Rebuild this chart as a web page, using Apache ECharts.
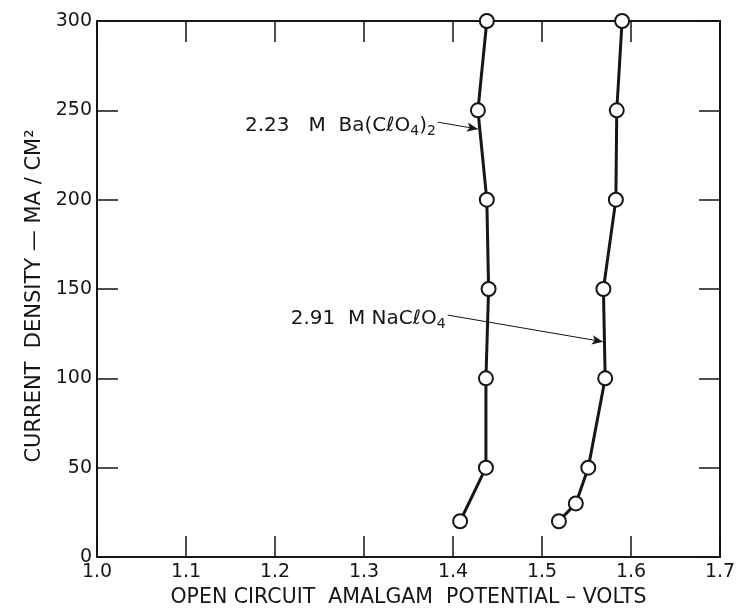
<!DOCTYPE html>
<html>
<head>
<meta charset="utf-8">
<script src="https://cdn.jsdelivr.net/npm/echarts@6/dist/echarts.min.js"></script>
<style>
  html, body { margin: 0; padding: 0; background: #ffffff; }
  #chart { width: 740px; height: 608px; }
</style>
</head>
<body>
<div id="chart"></div>
<script>
// Open-circuit amalgam potential vs. current density
const densityBa = [300, 250, 200, 150, 100, 50, 20];
const potentialBa = [1.438, 1.428, 1.438, 1.440, 1.437, 1.437, 1.408];

const densityNa = [300, 250, 200, 150, 100, 50, 30, 20];
const potentialNa = [1.590, 1.584, 1.583, 1.569, 1.571, 1.552, 1.538, 1.519];

const xTickLabels = ['1.0', '1.1', '1.2', '1.3', '1.4', '1.5', '1.6', '1.7'];
const yTickLabels = ['0', '50', '100', '150', '200', '250', '300'];

const labelBa = '2.23   M  Ba(CℓO';
const labelNa = '2.91  M NaCℓO';

const FONT = 'DejaVu Sans';
const INK = '#161616';

const pairs = (xs, ys) => xs.map((x, i) => [x, ys[i]]);

const chart = echarts.init(document.getElementById('chart'), null, { renderer: 'canvas' });

// frame lines stay on the plot edges, never on the zero of the other axis
const axisLine = { show: true, onZero: false, lineStyle: { color: INK, width: 2 } };
const tickStyle = { show: true, inside: true, length: 21, lineStyle: { color: INK, width: 1.5 } };

const richText = {
  m: { fontSize: 20, lineHeight: 25, color: INK, fontFamily: FONT },
  s: { fontSize: 14, lineHeight: 14, padding: [12, 0, 0, 0], color: INK, fontFamily: FONT }
};

function arrowMark(from, to, text) {
  return {
    silent: true,
    symbol: ['none', 'arrow'],
    symbolSize: [7, 11],
    lineStyle: { color: INK, width: 1, type: 'solid' },
    label: {
      show: true,
      position: 'start',
      distance: 2,
      offset: [0, 4],
      formatter: text,
      rich: richText
    },
    emphasis: { disabled: true },
    data: [[{ coord: from }, { coord: to }]]
  };
}

const option = {
  backgroundColor: '#ffffff',
  animation: false,
  // fixed plot rectangle; axis names are allowed to sit close to the page edge
  grid: { left: 97, top: 21, width: 623, height: 536, containLabel: false, outerBoundsMode: 'none' },
  xAxis: [
    {
      type: 'value', position: 'bottom', min: 1.0, max: 1.7, interval: 0.1,
      axisLine, axisTick: tickStyle, splitLine: { show: false },
      axisLabel: {
        margin: 6, color: INK, fontSize: 19, fontFamily: FONT,
        formatter: (v) => xTickLabels[Math.round((v - 1.0) * 10)]
      },
      name: 'OPEN CIRCUIT  AMALGAM  POTENTIAL – VOLTS',
      nameLocation: 'middle', nameGap: 30,
      nameTextStyle: { color: INK, fontSize: 20.5, fontFamily: FONT }
    },
    {
      type: 'value', position: 'top', min: 1.0, max: 1.7, interval: 0.1,
      axisLine, axisTick: tickStyle, axisLabel: { show: false }, splitLine: { show: false }
    }
  ],
  yAxis: [
    {
      type: 'value', position: 'left', min: 0, max: 300, interval: 50,
      axisLine, axisTick: tickStyle, splitLine: { show: false },
      axisLabel: {
        margin: 5, color: INK, fontSize: 19, fontFamily: FONT,
        formatter: (v) => yTickLabels[Math.round(v / 50)]
      },
      name: 'CURRENT  DENSITY — MA / CM²',
      nameLocation: 'middle', nameGap: 51,
      nameTextStyle: { color: INK, fontSize: 21, fontFamily: FONT, padding: [0, 14, 0, 0] }
    },
    {
      type: 'value', position: 'right', min: 0, max: 300, interval: 50,
      axisLine, axisTick: tickStyle, axisLabel: { show: false }, splitLine: { show: false }
    }
  ],
  series: [
    {
      name: labelBa,
      type: 'line',
      data: pairs(potentialBa, densityBa),
      clip: false,
      symbol: 'circle', symbolSize: 14,
      itemStyle: { color: '#ffffff', borderColor: INK, borderWidth: 2 },
      lineStyle: { color: INK, width: 3 },
      z: 3,
      markLine: arrowMark([1.383, 243.4], [1.428, 239.5],
        '{m|' + labelBa + '}{s|4}{m|)}{s|2}')
    },
    {
      name: labelNa,
      type: 'line',
      data: pairs(potentialNa, densityNa),
      clip: false,
      symbol: 'circle', symbolSize: 14,
      itemStyle: { color: '#ffffff', borderColor: INK, borderWidth: 2 },
      lineStyle: { color: INK, width: 3 },
      z: 3,
      markLine: arrowMark([1.394, 135.4], [1.5685, 120.5],
        '{m|' + labelNa + '}{s|4}')
    }
  ]
};

chart.setOption(option);
</script>
</body>
</html>
